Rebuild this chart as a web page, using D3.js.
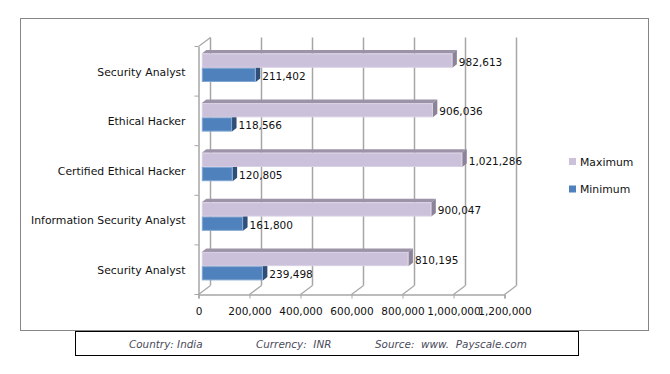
<!DOCTYPE html>
<html>
<head>
<meta charset="utf-8">
<script src="https://cdn.jsdelivr.net/npm/d3@7"></script>
<style>
  html, body { margin: 0; padding: 0; background: #fff; }
  svg { display: block; }
  text { font-family: "DejaVu Sans", sans-serif; font-size: 10.5px; fill: #111; white-space: pre; }
  .big-label text, text.big-label { font-size: 10.85px; }
</style>
</head>
<body>
<div id="chart-area"></div>
<script>
const categories = ['Security Analyst', 'Ethical Hacker', 'Certified Ethical Hacker', 'Information Security Analyst', 'Security Analyst']
const maximum = [982613, 906036, 1021286, 900047, 810195]
const minimum = [211402, 118566, 120805, 161800, 239498]
const seriesNames = ['Maximum', 'Minimum']
const xTicks = [0, 200000, 400000, 600000, 800000, 1000000, 1200000]
const footer = ['Country: India', 'Currency:  INR', 'Source:  www.  Payscale.com']

const plot = { left: 198.5, right: 504.5, top: 46.5, bottom: 294.5 }
const depth = { x: 12, y: 9 }
const barDepth = { x: 4.5, y: 3.5 }
const barOffset = 3.3

const colors = {
  Maximum: { front: '#ccc1da', top: '#9c93a8', side: '#8b8398', edge: '#d8cfe4' },
  Minimum: { front: '#4f81bd', top: '#3f6797', side: '#2f4f78', edge: '#7fa5d2' }
}
const gridColor = '#a6a6a6'

const svg = d3.select('#chart-area')
  .append('svg')
    .attr('width', 670)
    .attr('height', 374)

svg.append('rect')
  .attr('x', 20.5).attr('y', 18.5)
  .attr('width', 628).attr('height', 312)
  .attr('fill', '#fff')
  .attr('stroke', '#868686')

const scaleX = d3.scaleLinear()
  .domain([0, 1200000])
  .range([plot.left, plot.right])

const scaleY = d3.scaleBand()
  .domain(d3.range(categories.length))
  .range([plot.top, plot.bottom])

const scaleSeries = d3.scaleBand()
  .domain(seriesNames)
  .range([7, 35.5])

// back wall gridlines
svg.append('g').selectAll('line')
  .data(xTicks)
  .join('line')
    .attr('x1', d => scaleX(d) + depth.x)
    .attr('x2', d => scaleX(d) + depth.x)
    .attr('y1', plot.top - depth.y)
    .attr('y2', plot.bottom - depth.y)
    .attr('stroke', gridColor)
    .attr('stroke-width', 1.5)

// floor diagonals
svg.append('g').selectAll('line')
  .data(xTicks)
  .join('line')
    .attr('x1', d => scaleX(d))
    .attr('x2', d => scaleX(d) + depth.x)
    .attr('y1', plot.bottom)
    .attr('y2', plot.bottom - depth.y)
    .attr('stroke', gridColor)
    .attr('stroke-width', 1.2)

// left wall top diagonal
svg.append('line')
  .attr('x1', plot.left).attr('x2', plot.left + depth.x)
  .attr('y1', plot.top).attr('y2', plot.top - depth.y)
  .attr('stroke', gridColor)
  .attr('stroke-width', 1.2)

// x axis
const xAxisCall = d3.axisBottom(scaleX)
  .tickValues(xTicks)
  .tickSize(4)
  .tickPadding(9)
  .tickFormat(d3.format(','))
const xAxis = svg.append('g')
  .attr('transform', `translate(0, ${plot.bottom})`)
  .call(xAxisCall)

// y axis, labels only, ticks sit on the band edges
const yAxisCall = d3.axisLeft(scaleY)
  .tickSize(0)
  .tickPadding(13)
  .tickFormat(i => categories[i])
const yAxis = svg.append('g')
  .attr('class', 'big-label')
  .attr('transform', `translate(${plot.left}, 0)`)
  .call(yAxisCall)

yAxis.selectAll('.tick text').attr('dy', '0.4em')

svg.append('g').selectAll('line')
  .data(d3.range(categories.length + 1))
  .join('line')
    .attr('x1', plot.left - 4)
    .attr('x2', plot.left)
    .attr('y1', i => plot.top + i * scaleY.step())
    .attr('y2', i => plot.top + i * scaleY.step())
    .attr('stroke', gridColor)

svg.selectAll('.domain')
  .attr('stroke', gridColor)
  .attr('stroke-width', 1.5)
xAxis.selectAll('line').attr('stroke', gridColor)

const rows = categories.map((name, i) => ({ i, Maximum: maximum[i], Minimum: minimum[i] }))

// minimum first so the maximum bar covers its top face
seriesNames.slice().reverse().forEach(series => {
  const c = colors[series]
  const h = scaleSeries.bandwidth()
  const bars = svg.append('g').selectAll('g')
    .data(rows)
    .join('g')
      .attr('transform', d => `translate(0, ${scaleY(d.i) + scaleSeries(series)})`)

  const x0 = scaleX(0) + barOffset
  const x1 = d => scaleX(d[series]) + barOffset

  bars.append('path')
    .attr('fill', c.top)
    .attr('d', d => `M${x0},0L${x0 + barDepth.x},${-barDepth.y}L${x1(d) + barDepth.x},${-barDepth.y}L${x1(d)},0Z`)

  bars.append('path')
    .attr('fill', c.side)
    .attr('d', d => `M${x1(d)},0L${x1(d) + barDepth.x},${-barDepth.y}L${x1(d) + barDepth.x},${h - barDepth.y}L${x1(d)},${h}Z`)

  bars.append('rect')
    .attr('x', x0 + 0.5)
    .attr('y', 0.5)
    .attr('width', d => x1(d) - x0 - 1)
    .attr('height', h - 1)
    .attr('fill', c.front)
    .attr('stroke', c.edge)

  bars.append('text')
    .attr('x', d => x1(d) + barDepth.x + 2)
    .attr('y', h / 2 + 5)
    .text(d => d3.format(',')(d[series]))
})

// legend
const legend = svg.append('g').selectAll('g')
  .data(seriesNames)
  .join('g')
    .attr('class', 'big-label')
    .attr('transform', (d, i) => `translate(569, ${158 + i * 27.5})`)

legend.append('rect')
  .attr('width', 7)
  .attr('height', 7)
  .attr('fill', d => colors[d].front)

legend.append('text')
  .attr('x', 11)
  .attr('y', 7.5)
  .text(d => d)

// footer box
svg.append('rect')
  .attr('x', 75.5).attr('y', 331.5)
  .attr('width', 503).attr('height', 24)
  .attr('fill', '#fff')
  .attr('stroke', '#000')

svg.append('g').selectAll('text')
  .data(footer)
  .join('text')
    .attr('x', (d, i) => [129, 256, 375][i])
    .attr('y', 348)
    .attr('font-style', 'italic')
    .style('fill', '#4a4a5a')
    .style('font-size', '10.4px')
    .text(d => d)
</script>
</body>
</html>
